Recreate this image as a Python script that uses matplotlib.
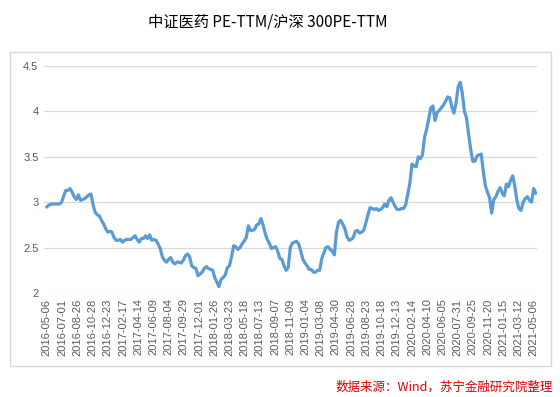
import matplotlib
matplotlib.use("Agg")
import matplotlib.pyplot as plt
from matplotlib.patches import Rectangle

title = "中证医药 PE-TTM/沪深 300PE-TTM"
source = "数据来源：Wind，苏宁金融研究院整理"

tick_labels = [
    "2016-05-06", "2016-07-01", "2016-08-26", "2016-10-28", "2016-12-23",
    "2017-02-17", "2017-04-14", "2017-06-09", "2017-08-04", "2017-09-29",
    "2017-12-01", "2018-01-26", "2018-03-23", "2018-05-18", "2018-07-13",
    "2018-09-07", "2018-11-09", "2019-01-04", "2019-03-08", "2019-04-30",
    "2019-06-28", "2019-08-23", "2019-10-18", "2019-12-13", "2020-02-14",
    "2020-04-10", "2020-06-05", "2020-07-31", "2020-09-25", "2020-11-20",
    "2021-01-15", "2021-03-12", "2021-05-06",
]

ratio = [
    2.95, 2.97, 2.98, 2.98, 2.98, 2.98, 2.98, 3.00, 3.07, 3.13,
    3.13, 3.15, 3.11, 3.06, 3.03, 3.08, 3.02, 3.03, 3.04, 3.06,
    3.08, 3.09, 2.97, 2.89, 2.86, 2.85, 2.80, 2.76, 2.71, 2.67,
    2.68, 2.67, 2.61, 2.58, 2.58, 2.59, 2.56, 2.58, 2.59, 2.59,
    2.59, 2.61, 2.63, 2.59, 2.56, 2.60, 2.60, 2.63, 2.60, 2.64,
    2.58, 2.59, 2.58, 2.54, 2.49, 2.40, 2.36, 2.34, 2.37, 2.39,
    2.34, 2.32, 2.34, 2.34, 2.33, 2.36, 2.41, 2.43, 2.40, 2.30,
    2.28, 2.27, 2.19, 2.21, 2.23, 2.27, 2.29, 2.27, 2.26, 2.25,
    2.17, 2.12, 2.07, 2.15, 2.17, 2.20, 2.28, 2.30, 2.40, 2.52,
    2.51, 2.48, 2.50, 2.54, 2.57, 2.61, 2.74, 2.69, 2.69, 2.70,
    2.75, 2.76, 2.82, 2.75, 2.66, 2.59, 2.55, 2.49, 2.50, 2.51,
    2.46, 2.38, 2.37, 2.30, 2.25, 2.28, 2.50, 2.55, 2.56, 2.57,
    2.54, 2.46, 2.37, 2.33, 2.30, 2.26, 2.26, 2.23, 2.23, 2.25,
    2.25, 2.38, 2.44, 2.50, 2.51, 2.48, 2.46, 2.42, 2.67, 2.78,
    2.80, 2.76, 2.71, 2.62, 2.58, 2.59, 2.61, 2.68, 2.69, 2.66,
    2.67, 2.69, 2.77, 2.86, 2.94, 2.93, 2.92, 2.93, 2.91, 2.92,
    2.94, 2.98, 2.95, 3.02, 3.05, 3.00, 2.95, 2.92, 2.92, 2.93,
    2.93, 2.97, 3.09, 3.21, 3.42, 3.40, 3.39, 3.50, 3.48, 3.52,
    3.72, 3.80, 3.92, 4.04, 4.06, 3.90, 3.99, 4.01, 4.04, 4.07,
    4.11, 4.16, 4.15, 4.05, 3.98, 4.09, 4.27, 4.32, 4.20, 4.00,
    3.93, 3.75, 3.58, 3.45, 3.45, 3.51, 3.52, 3.53, 3.34, 3.18,
    3.11, 3.05, 2.88, 3.03, 3.06, 3.12, 3.16, 3.10, 3.07, 3.20,
    3.17, 3.24, 3.29, 3.18, 3.02, 2.93, 2.91, 3.00, 3.04, 3.06,
    3.02, 3.00, 3.15, 3.10,
]

y_ticks = [2, 2.5, 3, 3.5, 4, 4.5]
y_tick_labels = ["2", "2.5", "3", "3.5", "4", "4.5"]

plt.rcParams['font.family'] = ['Noto Sans CJK SC', 'DejaVu Sans']

fig = plt.figure(figsize=(5.6, 3.97), dpi=100)
ax = fig.add_axes([44/560, 1-293/397, (537-44)/560, (293-66)/397])

x = list(range(len(ratio)))
ax.plot(x, ratio, color="#5B9BD5", linewidth=2.3, solid_joinstyle="round", zorder=3)

ax.set_ylim(2, 4.5)
ax.set_yticks(y_ticks)
ax.set_yticklabels(y_tick_labels, fontsize=8, color="#595959", family="Liberation Sans")
span = len(ratio) - 2
step = span / (len(tick_labels) - 1)
pos = [i * step for i in range(len(tick_labels))]
ax.set_xticks(pos)
ax.set_xticklabels(tick_labels, rotation=90, fontsize=8, color="#595959", family="Liberation Sans")
ax.set_xlim(-1.4, 233.6)
ax.tick_params(length=0, pad=4)
ax.grid(axis="y", color="#D9D9D9", linewidth=0.9)
ax.set_axisbelow(True)
for s in ax.spines.values():
    s.set_visible(False)

fig.patches.append(Rectangle((10/560, 1-366/397), 541/560, 314/397, transform=fig.transFigure,
                             fill=False, edgecolor="#D9D9D9", linewidth=1.0))

fig.text(268/560, 1-22/397, title, ha="center", va="center", fontsize=11, color="#000000")
fig.text(553/560, 1-387/397, source, ha="right", va="center", fontsize=9, color="#E00000", style="italic")

fig.savefig("out.png", dpi=100)
